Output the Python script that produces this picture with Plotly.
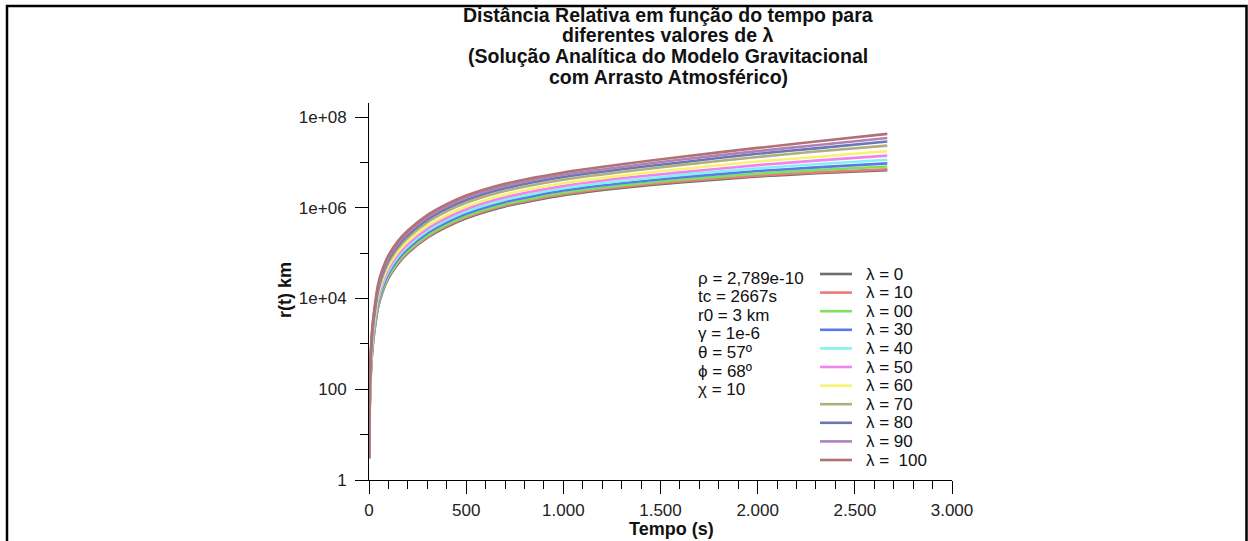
import plotly.graph_objects as go

# time samples (s)
tempo = [0, 1, 2, 4, 7, 10, 15, 20, 30, 46, 70, 100, 150, 200, 300, 400, 500,
         700, 1000, 1300, 1600, 2000, 2300, 2667]

# log10 of r(t) [km], one list per lambda
log_r_l0 = [0.48, 0.74, 1.11, 1.63, 2.09, 2.40, 2.75, 3.00, 3.35, 3.80, 4.15, 4.45, 4.77, 5.00, 5.34, 5.58, 5.77, 6.03, 6.28, 6.44, 6.56, 6.69, 6.76, 6.83]
log_r_l10 = [0.48, 0.75, 1.12, 1.65, 2.11, 2.42, 2.77, 3.02, 3.37, 3.82, 4.17, 4.47, 4.79, 5.02, 5.36, 5.60, 5.79, 6.05, 6.30, 6.46, 6.58, 6.71, 6.78, 6.85]
log_r_l20 = [0.48, 0.77, 1.15, 1.68, 2.14, 2.45, 2.80, 3.05, 3.40, 3.85, 4.20, 4.50, 4.82, 5.05, 5.39, 5.63, 5.82, 6.08, 6.33, 6.49, 6.62, 6.75, 6.83, 6.91]
log_r_l30 = [0.48, 0.80, 1.19, 1.73, 2.19, 2.50, 2.85, 3.10, 3.45, 3.90, 4.25, 4.55, 4.87, 5.10, 5.44, 5.68, 5.87, 6.13, 6.38, 6.54, 6.67, 6.81, 6.89, 6.98]
log_r_l40 = [0.48, 0.82, 1.23, 1.78, 2.24, 2.55, 2.90, 3.15, 3.50, 3.95, 4.30, 4.60, 4.92, 5.15, 5.49, 5.73, 5.92, 6.18, 6.43, 6.59, 6.72, 6.87, 6.96, 7.06]
log_r_l50 = [0.48, 0.86, 1.28, 1.83, 2.29, 2.60, 2.95, 3.20, 3.55, 4.00, 4.35, 4.65, 4.97, 5.20, 5.54, 5.78, 5.97, 6.23, 6.48, 6.65, 6.78, 6.94, 7.04, 7.15]
log_r_l60 = [0.48, 0.89, 1.33, 1.89, 2.35, 2.66, 3.01, 3.26, 3.61, 4.06, 4.41, 4.71, 5.03, 5.26, 5.60, 5.84, 6.03, 6.29, 6.54, 6.71, 6.85, 7.02, 7.12, 7.25]
log_r_l70 = [0.48, 0.94, 1.40, 1.97, 2.43, 2.74, 3.09, 3.34, 3.69, 4.14, 4.49, 4.79, 5.11, 5.34, 5.68, 5.92, 6.11, 6.37, 6.62, 6.79, 6.94, 7.12, 7.24, 7.37]
log_r_l80 = [0.48, 0.97, 1.44, 2.03, 2.49, 2.80, 3.15, 3.40, 3.75, 4.20, 4.55, 4.85, 5.17, 5.40, 5.74, 5.98, 6.17, 6.43, 6.68, 6.85, 7.00, 7.19, 7.31, 7.46]
log_r_l90 = [0.48, 1.00, 1.48, 2.08, 2.54, 2.85, 3.20, 3.45, 3.80, 4.25, 4.60, 4.90, 5.22, 5.45, 5.79, 6.03, 6.22, 6.48, 6.73, 6.90, 7.06, 7.25, 7.38, 7.54]
log_r_l100 = [0.48, 1.03, 1.53, 2.13, 2.59, 2.90, 3.25, 3.50, 3.85, 4.30, 4.65, 4.95, 5.27, 5.50, 5.84, 6.08, 6.27, 6.53, 6.78, 6.96, 7.12, 7.32, 7.46, 7.63]

series_names = ["λ = 0", "λ = 10", "λ = 00", "λ = 30", "λ = 40", "λ = 50",
                "λ = 60", "λ = 70", "λ = 80", "λ = 90", "λ =\u00a0 100"]
series_logs = [log_r_l0, log_r_l10, log_r_l20, log_r_l30, log_r_l40, log_r_l50,
               log_r_l60, log_r_l70, log_r_l80, log_r_l90, log_r_l100]
series_colors = ["#6e6e6e", "#ea7a7a", "#7fe05e", "#5a7ae8", "#80f2f2", "#f282f2",
                 "#f8f272", "#b0ae7e", "#6a78b2", "#b080b8", "#b07272"]

x_tickvals = [0, 500, 1000, 1500, 2000, 2500, 3000]
x_ticktext = ["0", "500", "1.000", "1.500", "2.000", "2.500", "3.000"]
y_tickvals = [1, 100, 1e4, 1e6, 1e8]
y_ticktext = ["1", "100", "1e+04", "1e+06", "1e+08"]
y_minorvals = [10, 1e3, 1e5, 1e7]

title_lines = ["Distância Relativa em função do tempo para",
               "diferentes valores de λ",
               "(Solução Analítica do Modelo Gravitacional",
               "com Arrasto Atmosférico)"]
params_text = ["ρ = 2,789e-10", "tc = 2667s", "r0 = 3 km", "γ = 1e-6",
               "θ = 57º", "ϕ = 68º", "χ = 10"]

FONT = "Liberation Sans, Arial, Helvetica, sans-serif"
TXT = "#111111"

W, H = 1248, 541
L, R, T, B = 369, 296, 103, 61
pw, ph = W - L - R, H - T - B


def px_x(p):
    return (p - L) / pw


def px_y(p):
    return (H - B - p) / ph


fig = go.Figure()
for name, logs, color in zip(series_names, series_logs, series_colors):
    fig.add_trace(go.Scatter(
        x=tempo, y=[10 ** v for v in logs], mode="lines", name=name,
        line=dict(color=color, width=2.6, shape="spline", smoothing=0.6),
        showlegend=False,
    ))

fig.update_layout(
    width=W, height=H,
    margin=dict(l=L, r=R, t=T, b=B),
    paper_bgcolor="white", plot_bgcolor="white",
    font=dict(family=FONT, size=17, color=TXT),
    showlegend=False,
    xaxis=dict(
        range=[0, 3000], showgrid=False, zeroline=False,
        showline=True, linecolor="black", linewidth=1,
        ticks="outside", ticklen=13, tickcolor="black", tickwidth=1,
        tickmode="array", tickvals=x_tickvals, ticktext=x_ticktext,
        tickfont=dict(family=FONT, size=17, color="#222222"),
        ticklabelstandoff=2,
        minor=dict(ticks="outside", ticklen=8, tickcolor="black", dtick=100, showgrid=False),
    ),
    yaxis=dict(
        type="log", range=[0, 8.31], showgrid=False, zeroline=False,
        showline=True, linecolor="black", linewidth=1,
        ticks="outside", ticklen=13, tickcolor="black", tickwidth=1,
        tickmode="array", tickvals=y_tickvals, ticktext=y_ticktext,
        tickfont=dict(family=FONT, size=17, color="#222222"),
        ticklabelstandoff=5,
        minor=dict(ticks="outside", ticklen=8, tickcolor="black",
                   tickmode="array", tickvals=y_minorvals, showgrid=False),
    ),
)

# title, one annotation per line to keep the tight line spacing
title_y = [15, 35.5, 56, 76.5]
for line, yy in zip(title_lines, title_y):
    fig.add_annotation(
        text="<b>" + line + "</b>", xref="paper", yref="paper",
        x=px_x(668), y=px_y(yy), xanchor="center", yanchor="middle",
        showarrow=False, font=dict(family=FONT, size=19.5, color=TXT),
    )

# parameter block
for i, line in enumerate(params_text):
    fig.add_annotation(
        text=line, xref="paper", yref="paper",
        x=px_x(696), y=px_y(278 + i * 18.6), xanchor="left", yanchor="middle",
        showarrow=False, font=dict(family=FONT, size=17, color=TXT),
    )

# legend (line sample + label for each series)
for i, (name, color) in enumerate(zip(series_names, series_colors)):
    yy = 274 + i * 18.6
    fig.add_shape(type="line", xref="paper", yref="paper",
                  x0=px_x(820), x1=px_x(852), y0=px_y(yy), y1=px_y(yy),
                  line=dict(color=color, width=2.6))
    fig.add_annotation(
        text=name, xref="paper", yref="paper",
        x=px_x(864), y=px_y(yy), xanchor="left", yanchor="middle",
        showarrow=False, font=dict(family=FONT, size=17, color=TXT),
    )

# axis titles
fig.add_annotation(
    text="<b>Tempo (s)</b>", xref="paper", yref="paper",
    x=px_x(671), y=px_y(529), xanchor="center", yanchor="middle",
    showarrow=False, font=dict(family=FONT, size=18, color=TXT),
)
fig.add_annotation(
    text="<b>r(t) km</b>", xref="paper", yref="paper", textangle=-90,
    x=px_x(285), y=px_y(290), xanchor="center", yanchor="middle",
    showarrow=False, font=dict(family=FONT, size=18, color=TXT),
)

# frame around the figure
fig.add_shape(type="rect", xref="paper", yref="paper",
              x0=px_x(7), x1=px_x(1246.5), y0=px_y(560), y1=px_y(6),
              line=dict(color="black", width=2.5), fillcolor="rgba(0,0,0,0)")

fig.write_html(
    "out.html",
    config={"displayModeBar": False},
    post_script="document.body.style.margin='0px';document.body.style.overflow='hidden';",
)
